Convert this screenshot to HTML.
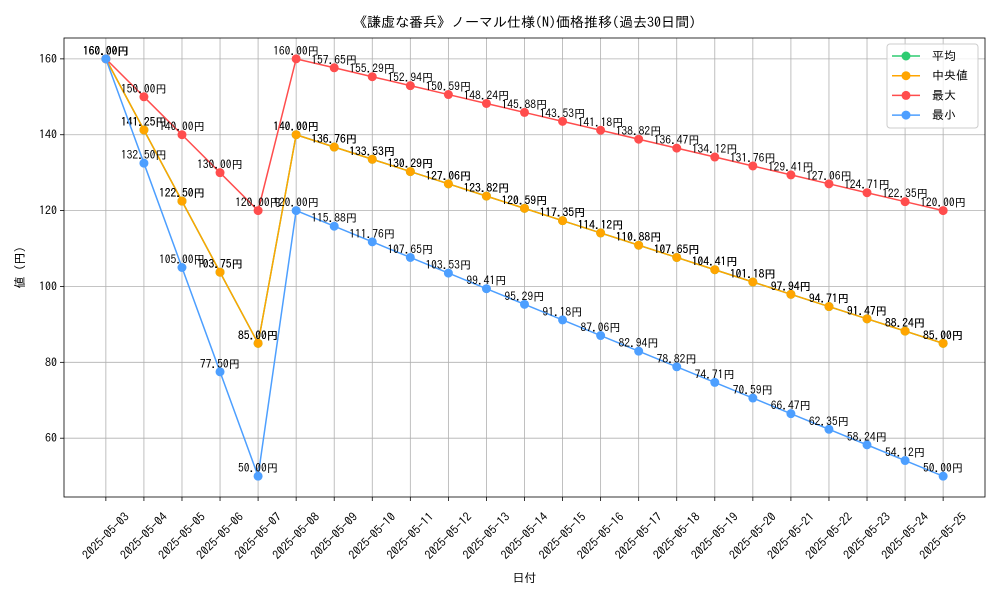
<!DOCTYPE html>
<html><head><meta charset="utf-8"><style>
body{margin:0;background:#fff}
text{font-family:"IPAGothic","Noto Sans CJK JP",sans-serif;fill:#000}
</style></head><body>
<svg id="c" width="1000" height="600" xmlns="http://www.w3.org/2000/svg"></svg>
<script>
const categories=["2025-05-03","2025-05-04","2025-05-05","2025-05-06","2025-05-07","2025-05-08","2025-05-09","2025-05-10","2025-05-11","2025-05-12","2025-05-13","2025-05-14","2025-05-15","2025-05-16","2025-05-17","2025-05-18","2025-05-19","2025-05-20","2025-05-21","2025-05-22","2025-05-23","2025-05-24","2025-05-25"];
const meanVals=[160,141.25,122.5,103.75,85,140,136.76,133.53,130.29,127.06,123.82,120.59,117.35,114.12,110.88,107.65,104.41,101.18,97.94,94.71,91.47,88.24,85];
const medianVals=[160,141.25,122.5,103.75,85,140,136.76,133.53,130.29,127.06,123.82,120.59,117.35,114.12,110.88,107.65,104.41,101.18,97.94,94.71,91.47,88.24,85];
const maxVals=[160,150,140,130,120,160,157.65,155.29,152.94,150.59,148.24,145.88,143.53,141.18,138.82,136.47,134.12,131.76,129.41,127.06,124.71,122.35,120];
const minVals=[160,132.5,105,77.5,50,120,115.88,111.76,107.65,103.53,99.41,95.29,91.18,87.06,82.94,78.82,74.71,70.59,66.47,62.35,58.24,54.12,50];
const yTicks=[60,80,100,120,140,160];
const seriesNames=["平均","中央値","最大","最小"];

const svg=document.getElementById('c');
const NS='http://www.w3.org/2000/svg';
const L=64,R=985,T=38,B=497;
const allV=[].concat(meanVals,medianVals,maxVals,minVals);
const vmin=Math.min(...allV),vmax=Math.max(...allV),pad=(vmax-vmin)*0.05;
const y0=vmin-pad,y1=vmax+pad;
const n=categories.length,xm=(n-1)*0.05;
function sx(i){return L+(i+xm)/((n-1)+2*xm)*(R-L);}
function sy(v){return B-(v-y0)/(y1-y0)*(B-T);}
function mk(tag,attrs,parent){const e=document.createElementNS(NS,tag);for(const k in attrs)e.setAttribute(k,attrs[k]);(parent||svg).appendChild(e);return e;}

const t=mk('text',{x:(L+R)/2,y:27,'text-anchor':'middle','font-size':14});
t.textContent='《謙虚な番兵》ノーマル仕様(N)価格推移(過去30日間)';



categories.forEach((c,i)=>{
  const g=mk('line',{x1:sx(i),x2:sx(i),y1:T,y2:B,stroke:'#b0b0b0','stroke-width':0.8});
  
  
  mk('line',{x1:sx(i),x2:sx(i),y1:B,y2:B+4,stroke:'#000','stroke-width':0.8});
  const tx=mk('text',{x:0,y:4,'text-anchor':'middle','font-size':12,transform:`translate(${sx(i)},${B+39}) rotate(-45)`});
  tx.textContent=c;
  
  
});
yTicks.forEach(v=>{
  const g=mk('line',{x1:L,x2:R,y1:sy(v),y2:sy(v),stroke:'#b0b0b0','stroke-width':0.8});
  
  
  mk('line',{x1:L-4,x2:L,y1:sy(v),y2:sy(v),stroke:'#000','stroke-width':0.8});
  const tx=mk('text',{x:L-7,y:sy(v)+4,'text-anchor':'end','font-size':12});
  tx.textContent=v;
  
  
});
const fr=mk('rect',{x:L,y:T,width:R-L,height:B-T,fill:'none',stroke:'#000','stroke-width':0.8});


const xl=mk('text',{x:(L+R)/2,y:582,'text-anchor':'middle','font-size':12});
xl.textContent='日付';


const yl=mk('text',{x:0,y:0,'text-anchor':'middle','font-size':12,transform:`translate(24,${(T+B)/2}) rotate(-90)`});
yl.textContent='値 (円)';



const series=[[meanVals,'#2ecc71','mean'],[medianVals,'#ffa500','median'],[maxVals,'#ff4d4d','max'],[minVals,'#4d9fff','min']];
series.forEach(([vals,col,key])=>{
  const pl=mk('polyline',{points:vals.map((v,i)=>sx(i)+','+sy(v)).join(' '),fill:'none',stroke:col,'stroke-width':1.5});
  
  
  vals.forEach((v,i)=>{
    const c=mk('circle',{cx:sx(i),cy:sy(v),r:4.5,fill:col});
    
    
    const lb=mk('text',{x:sx(i),y:sy(v)-4,'text-anchor':'middle','font-size':11.5});
    lb.textContent=v.toFixed(2)+'円';
    
    
  });
});

const lg=mk('g',{});


mk('rect',{x:887,y:44,width:91,height:84,rx:3,fill:'#fff','fill-opacity':0.8,stroke:'#ccc'},lg);
series.forEach(([v,col,key],k)=>{
  const y=56+k*19.7;
  const e=mk('g',{},lg);
  
  
  mk('line',{x1:892,x2:920,y1:y,y2:y,stroke:col,'stroke-width':1.5},e);
  mk('circle',{cx:906,cy:y,r:4.5,fill:col},e);
  const tx=mk('text',{x:932,y:y+4,'font-size':12},e);
  tx.textContent=seriesNames[k];
});
</script>
</body></html>
